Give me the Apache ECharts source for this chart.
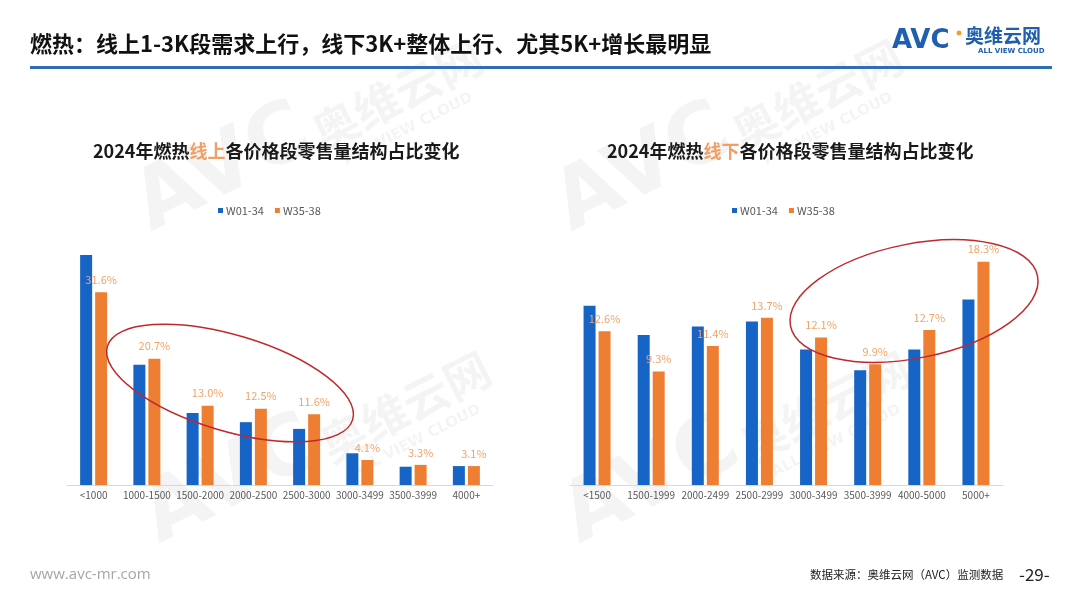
<!DOCTYPE html>
<html>
<head>
<meta charset="utf-8">
<script src="https://cdn.jsdelivr.net/npm/echarts@6/dist/echarts.min.js"></script>
<style>
html,body{margin:0;padding:0;background:#fff;}
#c{width:1080px;height:608px;}
</style>
</head>
<body>
<div id="c"></div>
<script>
// ---- data ----
var seriesNames = ['W01-34', 'W35-38'];
var onlineCats = ['<1000', '1000-1500', '1500-2000', '2000-2500', '2500-3000', '3000-3499', '3500-3999', '4000+'];
var onlineW0134 = [37.7, 19.7, 11.8, 10.3, 9.2, 5.2, 3.0, 3.1];
var onlineW3538 = [31.6, 20.7, 13.0, 12.5, 11.6, 4.1, 3.3, 3.1];
var offlineCats = ['<1500', '1500-1999', '2000-2499', '2500-2999', '3000-3499', '3500-3999', '4000-5000', '5000+'];
var offlineW0134 = [14.7, 12.3, 13.0, 13.4, 11.1, 9.4, 11.1, 15.2];
var offlineW3538 = [12.6, 9.3, 11.4, 13.7, 12.1, 9.9, 12.7, 18.3];

var BLUE = '#1664C6', ORANGE = '#EE7F32', LABEL = '#F0A468';
var FONT = '"Noto Sans CJK SC", "Noto Sans", sans-serif';

var chart = echarts.init(document.getElementById('c'), null, {renderer: 'canvas'});

function barSeries(name, data, idx, color, withLabel) {
  return {
    name: name, type: 'bar', xAxisIndex: idx, yAxisIndex: idx,
    data: data, barWidth: 12, barGap: '25%',
    itemStyle: {color: color},
    label: withLabel ? {
      show: true, position: 'top', distance: 7, color: LABEL, fontSize: 11, fontFamily: FONT,
      formatter: function (p) { return p.value.toFixed(1) + '%'; }
    } : {show: false}
  };
}

function xAxis(idx, cats) {
  return {
    type: 'category', gridIndex: idx, data: cats,
    axisLine: {lineStyle: {color: '#D9D9D9', width: 1}},
    axisTick: {show: false},
    axisLabel: {interval: 0, color: '#595959', fontSize: 10, fontFamily: FONT, margin: 5}
  };
}
function yAxis(idx, max) {
  return {type: 'value', gridIndex: idx, min: 0, max: max, show: false, splitLine: {show: false}};
}

function watermark(x, y) {
  var c = 'rgba(0,0,0,0.045)';
  return {
    type: 'group', x: x, y: y, rotation: 0.47, silent: true, z: 0,
    children: [
      {type: 'text', x: 0, y: 0, style: {text: 'AVC', fill: c, font: 'bold 84px "DejaVu Sans", sans-serif', textVerticalAlign: 'bottom'}},
      {type: 'text', x: 190, y: -8, style: {text: '奥维云网', fill: c, font: 'bold 46px "Noto Sans CJK SC", sans-serif', textVerticalAlign: 'bottom'}},
      {type: 'text', x: 205, y: 12, style: {text: 'ALL VIEW CLOUD', fill: c, font: 'bold 15px "DejaVu Sans", sans-serif', textVerticalAlign: 'bottom'}}
    ]
  };
}

var legendText = {color: '#595959', fontSize: 11, fontFamily: FONT, padding: [0, 0, 0, -2]};

var option = {
  backgroundColor: '#fff',
  animation: false,
  textStyle: {fontFamily: FONT},
  title: [
    {
      text: '2024年燃热{o|线上}各价格段零售量结构占比变化',
      left: 88, top: 137,
      textStyle: {fontSize: 18, fontWeight: 'bold', color: '#1a1a1a', fontFamily: FONT,
        rich: {o: {fontSize: 18, fontWeight: 'bold', color: '#F0A066', fontFamily: FONT}}}
    },
    {
      text: '2024年燃热{o|线下}各价格段零售量结构占比变化',
      left: 602, top: 137,
      textStyle: {fontSize: 18, fontWeight: 'bold', color: '#1a1a1a', fontFamily: FONT,
        rich: {o: {fontSize: 18, fontWeight: 'bold', color: '#F0A066', fontFamily: FONT}}}
    }
  ],
  legend: [
    {data: seriesNames, left: 213, top: 200, icon: 'rect', itemWidth: 5, itemHeight: 5, itemGap: 11,
      textStyle: legendText},
    {data: seriesNames, left: 727, top: 200, icon: 'rect', itemWidth: 5, itemHeight: 5, itemGap: 11,
      textStyle: legendText}
  ],
  grid: [
    {left: 67, right: 587, top: 241, bottom: 123},
    {left: 570, right: 77, top: 241, bottom: 123}
  ],
  xAxis: [xAxis(0, onlineCats), xAxis(1, offlineCats)],
  yAxis: [yAxis(0, 40), yAxis(1, 20)],
  series: [
    barSeries(seriesNames[0], onlineW0134, 0, BLUE, false),
    barSeries(seriesNames[1], onlineW3538, 0, ORANGE, true),
    barSeries(seriesNames[0], offlineW0134, 1, BLUE, false),
    barSeries(seriesNames[1], offlineW3538, 1, ORANGE, true)
  ],
  graphic: [
    watermark(160, 250),
    watermark(168, 562),
    watermark(580, 250),
    watermark(588, 562),
    // header
    {type: 'text', x: 30, y: 44, z: 10, style: {text: '燃热：线上1-3K段需求上行，线下3K+整体上行、尤其5K+增长最明显',
      fill: '#111', font: 'bold 22px "Noto Sans CJK SC", sans-serif', textVerticalAlign: 'middle'}},
    {type: 'rect', z: 10, shape: {x: 30, y: 66, width: 1022, height: 3}, style: {fill: '#2F6DB5'}},
    // logo
    {type: 'text', x: 892, y: 41, z: 10, style: {text: 'AVC', fill: '#1F5FAD', font: 'bold 26px "DejaVu Sans", sans-serif', textVerticalAlign: 'middle'}},
    {type: 'circle', z: 11, shape: {cx: 959, cy: 33, r: 2.5}, style: {fill: '#F0A030'}},
    {type: 'text', x: 965, y: 36, z: 10, style: {text: '奥维云网', fill: '#1F5FAD', font: 'bold 19px "Noto Sans CJK SC", sans-serif', textVerticalAlign: 'middle'}},
    {type: 'text', x: 978, y: 51, z: 10, style: {text: 'ALL VIEW CLOUD', fill: '#1F5FAD', font: 'bold 7px "DejaVu Sans", sans-serif', textVerticalAlign: 'middle'}},
    // ellipses
    {type: 'ellipse', z: 20, x: 230, y: 383, rotation: -0.29, shape: {cx: 0, cy: 0, rx: 128, ry: 48},
      style: {fill: 'none', stroke: '#C0282D', lineWidth: 1.5}},
    {type: 'ellipse', z: 20, x: 914, y: 301, rotation: 0.2, shape: {cx: 0, cy: 0, rx: 126, ry: 57},
      style: {fill: 'none', stroke: '#C0282D', lineWidth: 1.5}},
    // footer
    {type: 'text', x: 30, y: 575, z: 10, style: {text: 'www.avc-mr.com', fill: '#A6A6A6', font: '15px "Open Sans", sans-serif', textVerticalAlign: 'middle'}},
    {type: 'text', x: 810, y: 575, z: 10, style: {text: '数据来源：奥维云网（AVC）监测数据', fill: '#222', font: '11.5px "Noto Sans CJK SC", sans-serif', textVerticalAlign: 'middle'}},
    {type: 'text', x: 1019, y: 575, z: 10, style: {text: '-29-', fill: '#222', font: '17px "Noto Sans CJK SC", sans-serif', textVerticalAlign: 'middle'}}
  ]
};
chart.setOption(option);
</script>
</body>
</html>
